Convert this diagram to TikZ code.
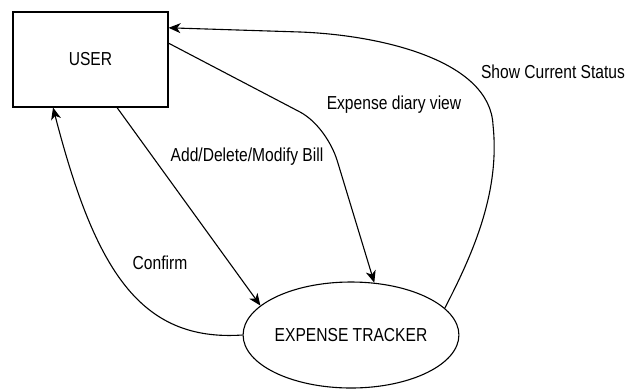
\documentclass[tikz,border=0pt]{standalone}
\usepackage{fontspec}
\setmainfont{Liberation Sans}[FakeStretch=0.83]
\usetikzlibrary{arrows.meta,calc,shapes.geometric}
\begin{document}
\begin{tikzpicture}[x=1pt,y=-1pt,
  every node/.style={font=\fontsize{18.8}{21}\selectfont},
  flow/.style={line width=1.1pt, -{Stealth[length=12pt,width=10pt,inset=3.5pt]}},
  entity/.style={draw, line width=1.1pt, minimum width=155pt, minimum height=95pt, inner sep=0pt},
  process/.style={draw, ellipse, line width=1.1pt, minimum width=182pt, minimum height=106pt, inner sep=0pt},
  lbl/.style={inner sep=0pt}]
\useasboundingbox (0,0) rectangle (628,389);

% the two parties
\node[entity] (user) at (90.5,59.5) {USER};
\node[process] (tracker) at (351,335) {EXPENSE TRACKER};

% data flows
\draw[flow] ($(user.south west)!0.67!(user.south east)$) -- (tracker.162);
\draw[flow] (tracker.west) .. controls (140,342) and (95,270) .. ($(user.south west)!0.26!(user.south east)$);
\draw[flow] ($(user.north east)!0.33!(user.south east)$) -- (300,112)
  .. controls (317.6,121.4) and (331.5,142.8) .. (337,160) -- (tracker.66);
\draw[flow] (tracker.16) .. controls (475,250) and (500,190) .. (493,125)
  .. controls (490,60) and (380,35) .. (300,32) -- ($(user.north east)!0.17!(user.south east)$);

% flow labels
\node[lbl] (addl) at (247,157) {Add/Delete/Modify Bill};
\node[lbl] (confl) at (160,263) {Confirm};
\node[lbl] (diaryl) at (394,105) {Expense diary view};
\node[lbl] (statusl) at (553,72) {Show Current Status};
\end{tikzpicture}
\end{document}
